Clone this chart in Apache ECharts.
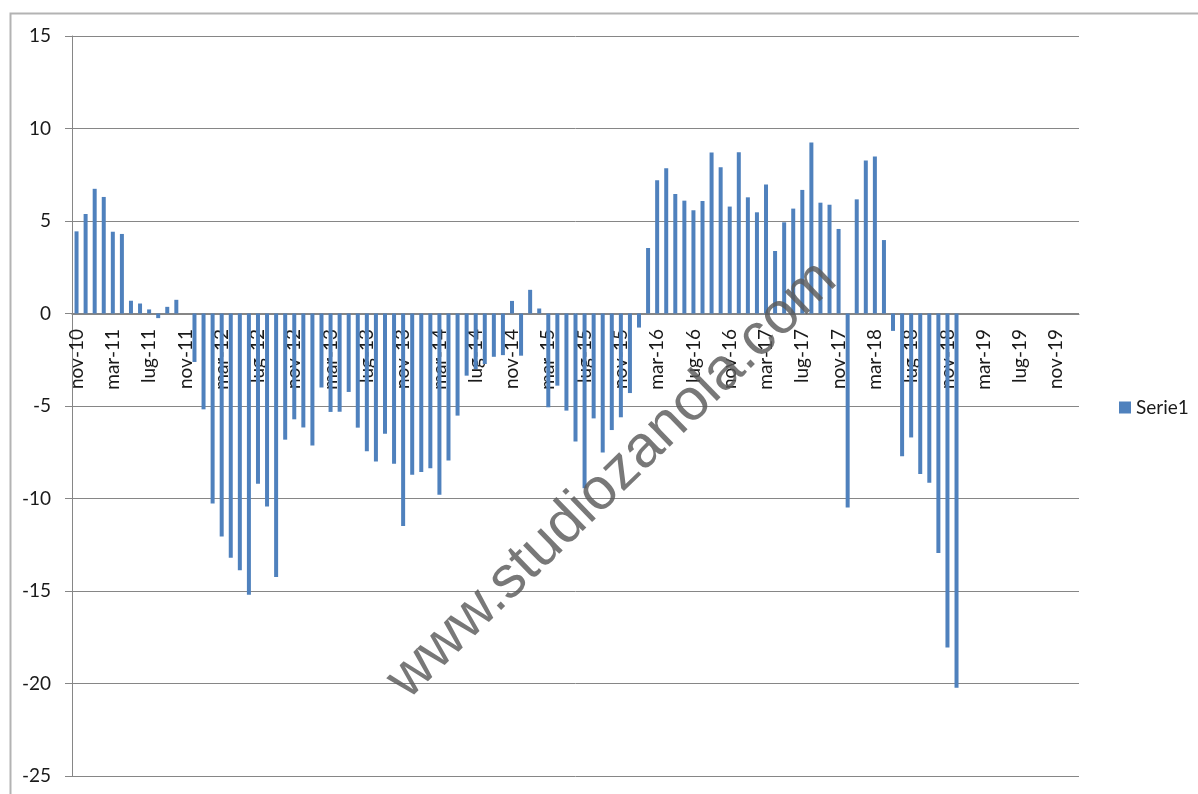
<!DOCTYPE html>
<html>
<head>
<meta charset="utf-8">
<title>Serie1</title>
<script src="https://cdn.jsdelivr.net/npm/echarts@6/dist/echarts.min.js"></script>
<style>
html, body { margin: 0; padding: 0; background: #fff; }
#tubiao { width: 1198px; height: 794px; }
</style>
</head>
<body>
<div id="tubiao"></div>
<script>
// mesi, da nov-10 a gen-20
var mesi = ['gen','feb','mar','apr','mag','giu','lug','ago','set','ott','nov','dic'];
var categorie = [];
for (var i = 0; i < 111; i++) {
    var m = (10 + i) % 12;
    var a = 10 + Math.floor((10 + i) / 12);
    categorie.push(mesi[m] + '-' + a);
}

// valori mensili nov-10 .. dic-18
var serie1 = [
    4.44, 5.38, 6.74, 6.30, 4.42, 4.30, 0.69, 0.54, 0.22, -0.25, 0.36, 0.74,
    0, -2.62, -5.18, -10.27, -12.06, -13.2, -13.88, -15.2, -9.2, -10.43, -14.24, -6.82,
    -5.72, -6.16, -7.13, -4.0, -5.32, -5.31, -4.24, -6.17, -7.45, -8.0, -6.5, -8.12,
    -11.48, -8.72, -8.57, -8.36, -9.8, -7.95, -5.52, -3.36, -3.0, -2.73, -2.34, -2.25,
    0.68, -2.28, 1.28, 0.27, -5.07, -3.9, -5.25, -6.92, -9.45, -5.67, -7.52, -6.3,
    -5.61, -4.3, -0.76, 3.54, 7.2, 7.85, 6.46, 6.1, 5.58, 6.08, 8.7, 7.9,
    5.78, 8.72, 6.28, 5.47, 6.97, 3.38, 4.93, 5.67, 6.68, 9.24, 5.99, 5.88,
    4.57, -10.49, 6.17, 8.27, 8.48, 3.97, -0.94, -7.71, -6.7, -8.68, -9.15, -12.94,
    -18.05, -20.23
];

var grigio = '#868686';
var font = 'Lato, "Liberation Sans", sans-serif';

var myChart = echarts.init(document.getElementById('tubiao'));
var option = {
    animation: false,
    grid: {
        left: 72,
        right: 119,
        top: 36,
        bottom: 18,
        outerBoundsMode: 'none'
    },
    legend: {
        data: ['Serie1'],
        orient: 'vertical',
        left: 1114,
        top: 393,
        icon: 'rect',
        itemWidth: 12,
        itemHeight: 12,
        textStyle: { fontSize: 19, color: '#1a1a1a', fontFamily: font }
    },
    xAxis: {
        type: 'category',
        data: categorie,
        // asse spostato sullo zero (da -25 a 0: 25 unita' di 18.5px)
        offset: -462,
        axisLine: { onZero: false, lineStyle: { color: grigio, width: 1 } },
        axisTick: { interval: 3, length: 6, lineStyle: { color: grigio } },
        axisLabel: {
            interval: 3,
            rotate: 90,
            margin: 15,
            fontSize: 19,
            color: '#1a1a1a',
            fontFamily: font
        },
        splitLine: { show: false }
    },
    yAxis: {
        type: 'value',
        min: -25,
        max: 15,
        interval: 5,
        axisLine: { show: true, lineStyle: { color: grigio, width: 1 } },
        axisTick: { show: true, length: 7, lineStyle: { color: grigio } },
        axisLabel: { margin: 21, fontSize: 19, color: '#1a1a1a', fontFamily: font },
        splitLine: { lineStyle: { color: grigio, width: 1 } }
    },
    series: [
        {
            name: 'Serie1',
            type: 'bar',
            barWidth: 4,
            data: serie1,
            itemStyle: { color: '#4F81BD' }
        }
    ],
    graphic: [
        {
            type: 'rect',
            left: 8,
            top: 11,
            shape: { width: 1300, height: 900 },
            style: { fill: 'none', stroke: '#b3b3b3', lineWidth: 2 },
            silent: true
        },
        {
            type: 'text',
            x: 612,
            y: 480,
            rotation: 0.77,
            z: 100,
            silent: true,
            style: {
                text: 'www.studiozanola.com',
                font: '59px "Liberation Sans", Arial, sans-serif',
                fill: 'rgba(90,90,90,0.82)',
                align: 'center',
                verticalAlign: 'middle',
                shadowBlur: 5,
                shadowColor: 'rgba(0,0,0,0.3)'
            }
        }
    ]
};
myChart.setOption(option);
</script>
</body>
</html>
